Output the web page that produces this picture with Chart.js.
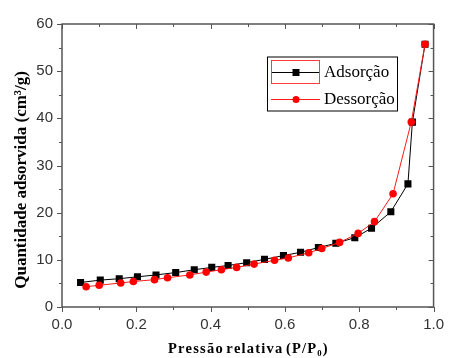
<!DOCTYPE html>
<html>
<head>
<meta charset="utf-8">
<script src="https://cdn.jsdelivr.net/npm/chart.js@4.4.0/dist/chart.umd.min.js"></script>
<style>
  html, body { margin: 0; padding: 0; background: #fff; }
  #wrap { width: 453px; height: 358px; }
</style>
</head>
<body>
<div id="wrap"><canvas id="isoterma"></canvas></div>
<script>
// dados
const adsX = [0.050, 0.103, 0.154, 0.203, 0.253, 0.306, 0.356, 0.403, 0.447, 0.497, 0.545,
              0.596, 0.642, 0.690, 0.737, 0.788, 0.833, 0.885, 0.931, 0.943, 0.977];
const adsY = [5.2, 5.7, 6.0, 6.4, 6.8, 7.3, 7.9, 8.4, 8.8, 9.4, 10.1,
              10.9, 11.6, 12.6, 13.5, 14.7, 16.7, 20.2, 26.1, 39.2, 55.7];
const desX = [0.065, 0.100, 0.158, 0.192, 0.249, 0.284, 0.344, 0.388, 0.429, 0.470, 0.517,
              0.572, 0.609, 0.664, 0.699, 0.747, 0.797, 0.841, 0.891, 0.940, 0.977];
const desY = [4.3, 4.6, 5.1, 5.4, 5.8, 6.2, 6.8, 7.4, 7.9, 8.4, 9.1,
              9.9, 10.4, 11.5, 12.4, 13.7, 15.6, 18.1, 24.0, 39.2, 55.7];
const xTicks = [0, 0.2, 0.4, 0.6, 0.8, 1.0];
const yTicks = [0, 10, 20, 30, 40, 50, 60];

const pontos = (xs, ys) => xs.map((x, i) => ({ x: x, y: ys[i] }));
// espacamento entre letras (hair space)
const espacar = s => s.split(" ").map(p => p.split("").join("\u200A")).join(" ");

const corEixo = "#555555";

// moldura, ticks (para fora embaixo/esquerda, para dentro em cima/direita) e legenda
const molduraPlugin = {
    id: 'moldura',
    afterDraw(chart) {
        const ctx = chart.ctx;
        const a = chart.chartArea;
        const sx = chart.scales.x, sy = chart.scales.y;
        ctx.save();
        ctx.strokeStyle = corEixo;
        ctx.lineWidth = 1.5;
        ctx.strokeRect(a.left, a.top, a.right - a.left, a.bottom - a.top);

        ctx.lineWidth = 1;
        for (let v = 0; v <= 1.0001; v += 0.1) {
            const px = Math.round(sx.getPixelForValue(v)) + 0.5;
            const major = Math.round(v * 10) % 2 === 0;
            const len = major ? 5 : 3;
            ctx.beginPath();
            ctx.moveTo(px, a.bottom); ctx.lineTo(px, a.bottom + len);
            ctx.moveTo(px, a.top); ctx.lineTo(px, a.top + len);
            ctx.stroke();
        }
        for (let v = 0; v <= 60; v += 5) {
            const py = Math.round(sy.getPixelForValue(v)) + 0.5;
            const len = v % 10 === 0 ? 5 : 3;
            ctx.beginPath();
            ctx.moveTo(a.left, py); ctx.lineTo(a.left - len, py);
            ctx.moveTo(a.right, py); ctx.lineTo(a.right - len, py);
            ctx.stroke();
        }

        // legenda
        const bx = 267.5, by = 57, bw = 130, bh = 54;
        ctx.fillStyle = "#fff";
        ctx.fillRect(bx, by, bw, bh);
        ctx.strokeStyle = "#000";
        ctx.lineWidth = 1;
        ctx.strokeRect(bx, by, bw, bh);
        const linhas = [72, 99];
        ctx.font = "17px 'Liberation Serif', 'Times New Roman', serif";
        ctx.textBaseline = "middle";
        chart.data.datasets.forEach((ds, i) => {
            const y = linhas[i] + 0.5;
            ctx.strokeStyle = ds.borderColor;
            ctx.lineWidth = 1;
            ctx.beginPath(); ctx.moveTo(271, y); ctx.lineTo(320, y); ctx.stroke();
            ctx.fillStyle = ds.pointBackgroundColor;
            if (ds.pointStyle === 'rect') {
                ctx.fillRect(292.5, y - 3.5, 7, 7);
            } else {
                ctx.beginPath(); ctx.arc(296, y, 3.5, 0, Math.PI * 2); ctx.fill();
            }
            ctx.fillStyle = "#000";
            ctx.fillText(ds.label, 324, linhas[i] + 1);
        });
        ctx.strokeStyle = "#ff3b3b";
        ctx.lineWidth = 1;
        ctx.strokeRect(271.5, 60.5, 48, 23);
        ctx.restore();
    }
};

new Chart(document.getElementById("isoterma"), {
    type: 'scatter',
    data: {
        datasets: [
            {
                label: "Adsorção",
                data: pontos(adsX, adsY),
                showLine: true,
                borderColor: "#000000",
                borderWidth: 1,
                pointStyle: 'rect',
                pointRadius: 5,
                pointBackgroundColor: "#000000",
                pointBorderWidth: 0,
                order: 1
            },
            {
                label: "Dessorção",
                data: pontos(desX, desY),
                showLine: true,
                borderColor: "#ff1a1a",
                borderWidth: 1,
                pointStyle: 'circle',
                pointRadius: 3.8,
                pointBackgroundColor: "#ff0000",
                pointBorderWidth: 0,
                order: 0
            }
        ]
    },
    options: {
        responsive: true,
        maintainAspectRatio: false,
        animation: false,
        layout: {
            padding: { top: 24, right: 11, left: 0, bottom: 0 }
        },
        plugins: {
            legend: { display: false },
            tooltip: { enabled: false }
        },
        scales: {
            x: {
                type: 'linear',
                min: 0,
                max: 1,
                afterFit: s => { s.height = 51; },
                afterBuildTicks: s => { s.ticks = xTicks.map(v => ({ value: v })); },
                grid: { display: false, drawTicks: false },
                border: { display: false },
                ticks: {
                    padding: 9,
                    color: "#333",
                    font: { family: "'Liberation Sans', Arial, sans-serif", size: 15 },
                    callback: v => v.toFixed(1)
                },
                title: {
                    display: true,
                    text: espacar("Pressão relativa (P/P₀)"),
                    color: "#000",
                    font: { family: "'Liberation Serif', 'Times New Roman', serif", size: 14.5, weight: 'bold' },
                    padding: { top: 7, bottom: 0 }
                }
            },
            y: {
                type: 'linear',
                min: 0,
                max: 60,
                afterFit: s => { s.width = 62; },
                afterBuildTicks: s => { s.ticks = yTicks.map(v => ({ value: v })); },
                grid: { display: false, drawTicks: false },
                border: { display: false },
                ticks: {
                    padding: 9,
                    color: "#333",
                    font: { family: "'Liberation Sans', Arial, sans-serif", size: 15 }
                },
                title: {
                    display: true,
                    // espacos no fim deslocam o titulo para baixo, como no original
                    text: "Quantidade adsorvida (cm³/g)\u2003\u2002\u2009",
                    color: "#000",
                    font: { family: "'Liberation Serif', 'Times New Roman', serif", size: 17, weight: 'bold' },
                    padding: { top: 11, bottom: 0 }
                }
            }
        }
    },
    plugins: [molduraPlugin]
});
</script>
</body>
</html>
